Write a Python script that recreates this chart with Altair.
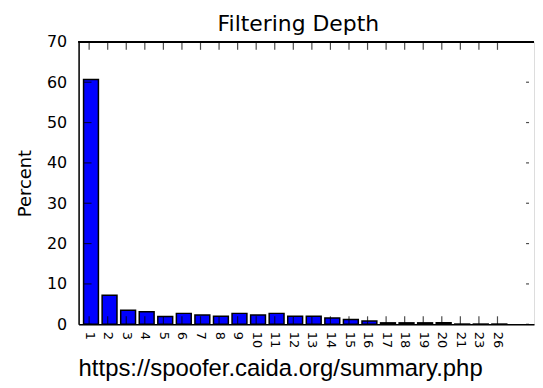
import json
import altair as alt
import pandas as pd

# ---- data ----
depth_labels = ["1", "2", "3", "4", "5", "6", "7", "8", "9", "10", "11", "12",
                "13", "14", "15", "16", "17", "18", "19", "20", "21", "23", "26"]
percent = [60.7, 7.2, 3.45, 3.1, 1.9, 2.7, 2.3, 2.0, 2.7, 2.3, 2.7, 2.0,
           2.0, 1.55, 1.2, 0.8, 0.35, 0.35, 0.35, 0.4, 0.05, 0.05, 0.05]
y_ticks = [0, 10, 20, 30, 40, 50, 60, 70]
title_text = "Filtering Depth"
y_title = "Percent"
source_text = "https://spoofer.caida.org/summary.php"

BAR_W = 0.8
TICK_OFF = 0.3
X_MAX = 24
Y_MAX = 70

df = pd.DataFrame({"idx": list(range(len(depth_labels))),
                   "label": depth_labels, "value": percent})
ydf = pd.DataFrame({"v": y_ticks})

xscale = alt.Scale(domain=[0, X_MAX], nice=False, zero=False)
yscale = alt.Scale(domain=[0, Y_MAX], nice=False)

label_expr = f"{json.dumps(depth_labels)}[round(datum.value - {TICK_OFF})]"

xaxis = alt.Axis(values=[i + TICK_OFF for i in range(len(depth_labels))],
                 labelExpr=label_expr, title=None, labelAngle=90,
                 labelFont="DejaVu Sans", labelFontSize=13, labelColor="black",
                 labelPadding=7, ticks=False, grid=False,
                 domainColor="black", domainWidth=1.5, labelFlush=False,
                 labelOverlap=False, labelBound=False)
yaxis = alt.Axis(values=y_ticks, title=y_title, titleFont="DejaVu Sans",
                 titleFontSize=18, titleFontWeight="normal", titleColor="black",
                 titlePadding=12, labelFont="DejaVu Sans", labelFontSize=16,
                 labelColor="black", labelPadding=12, ticks=False, grid=False,
                 domainColor="black", domainWidth=1.5, labelFlush=False,
                 labelOverlap=False)

base = alt.Chart(df).transform_calculate(
    x0="datum.idx", x1=f"datum.idx + {BAR_W}", xt=f"datum.idx + {TICK_OFF}"
)

bars = base.mark_bar(color="#0000ff", stroke="black", strokeWidth=1.5,
                     orient="vertical").encode(
    x=alt.X("x0:Q", scale=xscale, axis=xaxis),
    x2="x1:Q",
    y=alt.Y("value:Q", scale=yscale, axis=yaxis),
    y2=alt.datum(0),
)

bottom_ticks = base.mark_tick(orient="vertical", size=8, thickness=1.2,
                              color="black", yOffset=-4).encode(
    x=alt.X("xt:Q", scale=xscale, axis=xaxis),
    y=alt.YDatum(0, scale=yscale, axis=yaxis))
top_ticks = base.mark_tick(orient="vertical", size=8, thickness=1.2,
                           color="black", yOffset=4).encode(
    x=alt.X("xt:Q", scale=xscale, axis=xaxis),
    y=alt.YDatum(Y_MAX, scale=yscale, axis=yaxis))
left_ticks = alt.Chart(ydf).mark_tick(orient="horizontal", size=8, thickness=1.2,
                                      color="black", xOffset=4).encode(
    y=alt.Y("v:Q", scale=yscale, axis=yaxis),
    x=alt.XDatum(0, scale=xscale, axis=xaxis))
right_ticks = alt.Chart(ydf).mark_tick(orient="horizontal", size=3, thickness=1.2,
                                       color="black", xOffset=-1.5).encode(
    y=alt.Y("v:Q", scale=yscale, axis=yaxis),
    x=alt.XDatum(X_MAX, scale=xscale, axis=xaxis))
top_spine = alt.Chart(ydf).mark_rule(color="black", strokeWidth=1.5).encode(
    y=alt.YDatum(Y_MAX, scale=yscale, axis=yaxis))

source = alt.Chart(pd.DataFrame({"t": [source_text]})).mark_text(
    align="left", baseline="alphabetic", font="Liberation Sans", fontSize=24,
    color="black").encode(x=alt.value(0), y=alt.value(336), text="t:N")

chart = alt.layer(bars, bottom_ticks, top_ticks, left_ticks, right_ticks,
                  top_spine, source).properties(
    width=458, height=284,
    title=alt.TitleParams(title_text, font="DejaVu Sans", fontSize=22,
                          fontWeight="normal", color="black", baseline="alphabetic",
                          offset=-19, dx=-8),
    padding={"left": 8, "top": 4, "right": 0, "bottom": 0},
).configure_view(stroke=None).configure(background="white")

chart.save("out.html", embed_options={"renderer": "svg", "actions": False})
